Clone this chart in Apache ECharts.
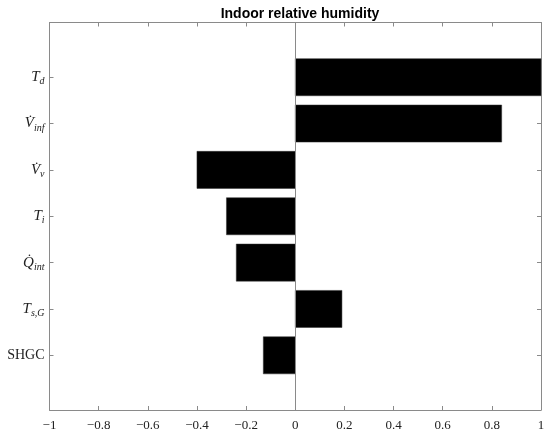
<!DOCTYPE html>
<html>
<head>
<meta charset="utf-8">
<script src="https://cdn.jsdelivr.net/npm/echarts@6/dist/echarts.min.js"></script>
<style>
  html, body { margin: 0; padding: 0; background: #fff; }
  #main { width: 550px; height: 436px; }
</style>
</head>
<body>
<div id="main"></div>
<script>
// parameters, top to bottom
var categories = ['T_d', 'V_inf', 'V_v', 'T_i', 'Q_int', 'T_sG', 'SHGC'];
var catLabels = [
  '{m|T}{s|d}',
  '{m|V\u0307}{s|inf}',
  '{m|V\u0307}{s|v}',
  '{m|T}{s|i}',
  '{m|Q\u0307}{s|int}',
  '{m|T}{s|s,G}',
  '{r|SHGC}'
];
var values = [1.0, 0.84, -0.40, -0.28, -0.24, 0.19, -0.13];
var xTicks = [-1, -0.8, -0.6, -0.4, -0.2, 0, 0.2, 0.4, 0.6, 0.8, 1];

var axisGray = '#8a8a8a';
var serif = "'Liberation Serif', 'DejaVu Serif', serif";

// bar data: [value, position]  (position 1 = top)
var barData = values.map(function (v, i) { return [v, i + 1]; });
var catPos = categories.map(function (c, i) { return i + 1; });

var chart = echarts.init(document.getElementById('main'));

function fmtTick(v) {
  var s = String(Math.round(v * 10) / 10);
  return s.replace('-', '\u2212');
}

var option = {
  animation: false,
  title: {
    text: 'Indoor relative humidity',
    left: 295, top: 2, textAlign: 'center',
    textStyle: { fontFamily: "'Liberation Sans', Arial, sans-serif", fontSize: 14, fontWeight: 'bold', color: '#000' }
  },
  grid: { left: 49.5, right: 9, top: 22.5, bottom: 26, containLabel: false },
  xAxis: [
    {
      type: 'value', min: -1, max: 1, interval: 0.2, position: 'bottom',
      axisLine: { show: true, onZero: false, lineStyle: { color: axisGray, width: 1 } },
      axisTick: { show: true, inside: true, length: 4, lineStyle: { color: axisGray } },
      axisLabel: {
        formatter: fmtTick, margin: 9, color: '#222',
        fontFamily: serif, fontSize: 13, showMinLabel: true, showMaxLabel: true
      },
      splitLine: { show: false }
    },
    {
      type: 'value', min: -1, max: 1, interval: 0.2, position: 'top',
      axisLine: { show: true, onZero: false, lineStyle: { color: axisGray, width: 1 } },
      axisTick: { show: true, inside: true, length: 4, lineStyle: { color: axisGray } },
      axisLabel: { show: false },
      splitLine: { show: false }
    }
  ],
  yAxis: [
    {
      type: 'value', min: -0.18, max: 8.18, inverse: true, position: 'left',
      axisLine: { show: true, onZero: false, lineStyle: { color: axisGray, width: 1 } },
      axisTick: { show: true, inside: true, length: 4, customValues: catPos, lineStyle: { color: axisGray } },
      axisLabel: {
        customValues: catPos, margin: 5, color: '#222',
        formatter: function (v) { return catLabels[Math.round(v) - 1] || ''; },
        rich: {
          m: { fontFamily: serif, fontStyle: 'italic', fontSize: 15, color: '#222', lineHeight: 16 },
          s: { fontFamily: serif, fontStyle: 'italic', fontSize: 10, color: '#222', lineHeight: 16, padding: [9, 0, 0, 0] },
          r: { fontFamily: serif, fontSize: 14, color: '#222' }
        }
      },
      splitLine: { show: false }
    },
    {
      type: 'value', min: -0.18, max: 8.18, inverse: true, position: 'right',
      axisLine: { show: true, onZero: false, lineStyle: { color: axisGray, width: 1 } },
      axisTick: { show: true, inside: true, length: 4, customValues: catPos, lineStyle: { color: axisGray } },
      axisLabel: { show: false },
      splitLine: { show: false }
    }
  ],
  series: [
    {
      type: 'custom',
      xAxisIndex: 0, yAxisIndex: 0,
      data: barData,
      renderItem: function (params, api) {
        var p0 = api.coord([0, api.value(1)]);
        var p1 = api.coord([api.value(0), api.value(1)]);
        var h = api.size([0, 0.8])[1];
        return {
          type: 'rect',
          shape: { x: Math.min(p0[0], p1[0]), y: p0[1] - h / 2, width: Math.abs(p1[0] - p0[0]), height: h },
          style: { fill: '#000', stroke: '#333', lineWidth: 0.5 }
        };
      },
      markLine: {
        silent: true, symbol: 'none', label: { show: false },
        lineStyle: { color: axisGray, width: 1, type: 'solid' },
        data: [{ xAxis: 0 }]
      }
    }
  ]
};

chart.setOption(option);
</script>
</body>
</html>
